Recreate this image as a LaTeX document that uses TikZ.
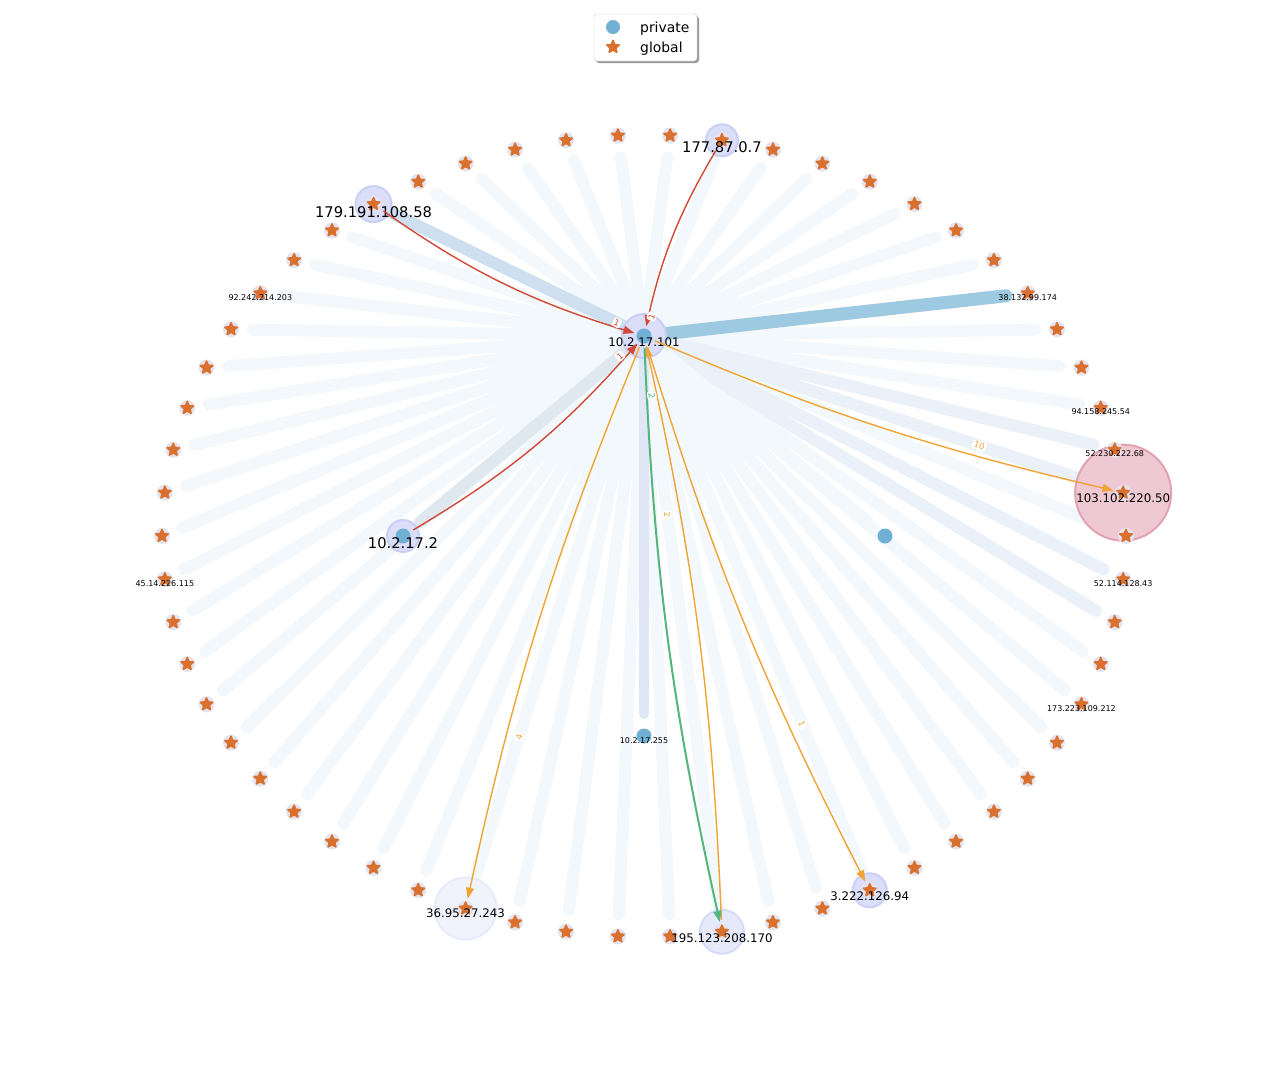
\documentclass[tikz,border=0pt]{standalone}
\usepackage{fontspec}
\setmainfont{DejaVu Sans}
\usetikzlibrary{arrows.meta,calc,backgrounds}
\definecolor{pcol}{RGB}{112,176,213}
\definecolor{gcol}{RGB}{217,112,46}
\definecolor{halocol}{RGB}{230,227,240}
\definecolor{spokecol}{RGB}{243,248,252}
\definecolor{spokeb}{RGB}{234,241,249}
\definecolor{redc}{RGB}{212,72,55}
\definecolor{orangec}{RGB}{240,164,52}
\definecolor{greenc}{RGB}{82,182,125}
\definecolor{legline}{RGB}{200,200,200}
\begin{document}
\begin{tikzpicture}[x=1pt,y=-1pt,>={Triangle[length=11pt,width=8pt]},
  gstar/.pic={\fill[gcol,draw=gcol,line width=1.6pt,line join=round] (270:6.5) -- (234:3) -- (198:6.5) -- (162:3) -- (126:6.5) -- (90:3) -- (54:6.5) -- (18:3) -- (342:6.5) -- (306:3) -- cycle;},
  glob/.style={circle,inner sep=0pt,minimum size=14pt},
  ring/.style={circle,fill=halocol,inner sep=0pt,minimum size=16pt},
  priv/.style={circle,fill=pcol,inner sep=0pt,minimum size=15pt},
  spoke/.style={line width=12pt,line cap=round,draw=spokecol,shorten >=22pt},
  glowa/.style={circle,inner sep=0pt,fill={rgb,255:red,218;green,222;blue,248},draw={rgb,255:red,202;green,208;blue,245},line width=2pt},
  glowb/.style={circle,inner sep=0pt,fill={rgb,255:red,229;green,233;blue,250},draw={rgb,255:red,213;green,219;blue,248},line width=2pt},
  glowc/.style={circle,inner sep=0pt,fill={rgb,255:red,241;green,243;blue,252},draw={rgb,255:red,231;green,235;blue,251},line width=2pt},
  glowpink/.style={circle,inner sep=0pt,fill={rgb,255:red,238;green,201;blue,211},draw={rgb,255:red,226;green,162;blue,178},line width=2pt},
  bigip/.style={font=\fontsize{14.7}{15}\selectfont},
  midip/.style={font=\fontsize{11.8}{12}\selectfont},
  smallip/.style={font=\fontsize{8}{8}\selectfont},
  hop/.style={line width=1.4pt,->,shorten <=12pt,shorten >=10pt},
  cnt/.style={font=\fontsize{8.5}{8.5}\selectfont,fill=white,rounded corners=2pt,inner sep=1.5pt}]
\useasboundingbox (0,0) rectangle (1288,1072);

% hosts
\foreach \i in {0,...,57}
  \path ({644+482*cos(\i/58*360)},{536-401*sin(\i/58*360)}) node[ring] (r\i) {} node[glob] (g\i) {} pic {gstar};
\node[priv] (priv101) at (644,336) {};
\node[priv] (priv2) at (403,536) {};
\node[priv] (priv255) at (644,736) {};
\node[priv] (privx) at (885,536) {};

% traffic to every host
\begin{scope}[on background layer]
\fill[white] (0,0) rectangle (1288,1072);
\foreach \i in {0,...,57}
  \draw[spoke] (priv101.center) -- (g\i.center);
\foreach \i in {1,2,56,57}
  \draw[spoke,draw=spokeb] (priv101.center) -- (g\i.center);
\draw[spoke,draw={rgb,255:red,206;green,223;blue,239}] (priv101.center) -- (g20.center);
\draw[spoke,line width=13pt,draw={rgb,255:red,158;green,202;blue,225}] (priv101.center) -- (g6.center);
\draw[spoke,draw={rgb,255:red,223;green,232;blue,239}] (priv101.center) -- (priv2.center);
\draw[spoke,line width=10pt,draw={rgb,255:red,223;green,230;blue,246}] (priv101.center) -- (priv255.center);
\draw[spoke] (priv101.center) -- (privx.center);
\node[glowa,minimum size=44pt] (h101) at (priv101) {};
\node[glowa,minimum size=32pt] (h2) at (priv2) {};
\node[glowa,minimum size=36pt] (h20) at (g20) {};
\node[glowa,minimum size=32pt] (h13) at (g13) {};
\node[glowa,minimum size=34pt] (h48) at (g48) {};
\node[glowb,minimum size=44pt] (h45) at (g45) {};
\node[glowc,minimum size=62pt] (h40) at (g40) {};
\node[glowpink,minimum size=96pt] (h1) at (g1) {};
\end{scope}

% addresses
\node[bigip] (t20) at ([yshift=-8pt]g20.center) {179.191.108.58};
\node[bigip] (t13) at ([yshift=-7pt]g13.center) {177.87.0.7};
\node[bigip] (t2) at ([yshift=-7pt]priv2.center) {10.2.17.2};
\node[midip] (t101) at ([yshift=-6pt]priv101.center) {10.2.17.101};
\node[midip] (t1) at ([yshift=-6pt]g1.center) {103.102.220.50};
\node[midip] (t40) at ([yshift=-5pt]g40.center) {36.95.27.243};
\node[midip] (t45) at ([yshift=-6pt]g45.center) {195.123.208.170};
\node[midip] (t48) at ([yshift=-6pt]g48.center) {3.222.126.94};
\node[smallip] (t6) at ([yshift=-4pt]g6.center) {38.132.99.174};
\node[smallip] (t3) at ([yshift=-4pt]g3.center) {94.158.245.54};
\node[smallip] (t2b) at ([yshift=-4pt]g2.center) {52.230.222.68};
\node[smallip] (t57) at ([yshift=-4pt]g57.center) {52.114.128.43};
\node[smallip] (t54) at ([yshift=-4pt]g54.center) {173.223.109.212};
\node[smallip] (t23) at ([yshift=-4pt]g23.center) {92.242.214.203};
\node[smallip] (t30) at ([yshift=-4pt]g30.center) {45.14.226.115};
\node[smallip] (t255) at ([yshift=-5pt]priv255.center) {10.2.17.255};

% flows
\draw[hop,redc] (g20.center) to[bend right=9] (priv101.center);
\draw[hop,redc] (g13.center) to[bend right=9] (priv101.center);
\draw[hop,redc] (priv2.center) to[bend right=9] (priv101.center);
\draw[hop,orangec] (priv101.center) to[bend right=5] (g1.center);
\draw[hop,orangec] (priv101.center) to[bend right=5] (g40.center);
\draw[hop,orangec] (priv101.center) to[bend right=5] (g48.center);
\draw[hop,orangec] (g45.center) to[bend right=5] (priv101.center);
\draw[hop,greenc,line width=2pt] (priv101.center) to[bend right=5] (g45.center);
\node[cnt,text=redc,rotate=-26] (c20) at ($(g20)!0.9!(priv101)$) {1};
\node[cnt,text=redc,rotate=68] (c13) at ($(g13)!0.9!(priv101)$) {1};
\node[cnt,text=redc,rotate=40] (c2) at ($(priv2)!0.9!(priv101)$) {1};
\node[cnt,text=orangec,rotate=-18] (c1) at ($(priv101)!0.7!(g1)$) {10};
\node[cnt,text=orangec,rotate=73] (c40) at ($(priv101)!0.7!(g40)$) {4};
\node[cnt,text=orangec,rotate=-68] (c48) at ($(priv101)!0.7!(g48)$) {1};
\node[cnt,text=orangec,rotate=-82] (c45) at ($(g45)!0.7!(priv101)$) {2};
\node[cnt,text=greenc,rotate=-82] (c45g) at ($(priv101)!0.1!(g45)$) {2};

% legend
\fill[black!40,rounded corners=3pt] (596,16) rectangle (699,63);
\node[draw=legline,fill=white,rounded corners=3pt,minimum width=103pt,minimum height=47pt,inner sep=0pt] (legend) at (645.5,37.5) {};
\node[priv,minimum size=14pt] (lgp) at (613,27) {};
\path (613,47) node[glob] (lgg) {} pic {gstar};
\node[anchor=base west,font=\fontsize{13.9}{14}\selectfont,inner sep=0pt] (lgpt) at (640,32) {private};
\node[anchor=base west,font=\fontsize{13.9}{14}\selectfont,inner sep=0pt] (lggt) at (640,52) {global};
\end{tikzpicture}
\end{document}
